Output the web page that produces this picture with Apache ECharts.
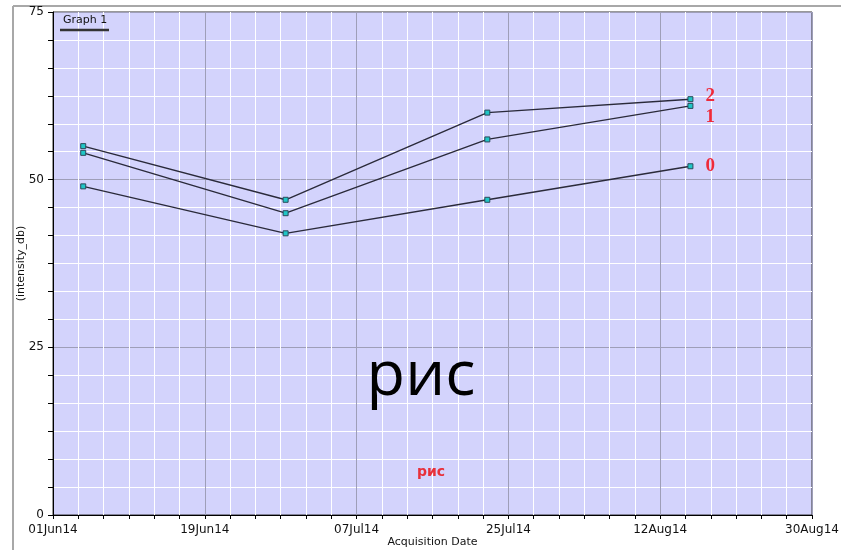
<!DOCTYPE html>
<html>
<head>
<meta charset="utf-8">
<script src="https://cdn.jsdelivr.net/npm/echarts@6/dist/echarts.min.js"></script>
<style>html,body{margin:0;padding:0;background:#fff;}#c{width:841px;height:550px;}</style>
</head>
<body>
<div id="c"></div>
<script>
// Data
const baseDate = '2014-06-01T00:00:00Z';
const acquisitionDates = ['2014-06-04T14:00:00Z', '2014-06-28T14:00:00Z', '2014-07-22T12:00:00Z', '2014-08-15T14:00:00Z'];
const seriesNames = ['0', '1', '2'];
const series0 = [49, 42, 47, 52];
const series1 = [54, 45, 56, 61];
const series2 = [55, 47, 60, 62];
const yTicks = [0, 25, 50, 75];
const monthNames = ['Jan','Feb','Mar','Apr','May','Jun','Jul','Aug','Sep','Oct','Nov','Dec'];

const DAY = 86400000;
const base = Date.parse(baseDate);
const xDays = acquisitionDates.map(d => (Date.parse(d) - base) / DAY);
function fmtDate(days) {
  const d = new Date(base + days * DAY);
  const dd = String(d.getUTCDate()).padStart(2, '0');
  return dd + monthNames[d.getUTCMonth()] + String(d.getUTCFullYear()).slice(2);
}
const allSeries = [series0, series1, series2];
const labelOffsets = [[0, 0], [0, 11], [0, -3]];

const chart = echarts.init(document.getElementById('c'), null, {renderer: 'canvas', width: 841, height: 550});
const font = 'DejaVu Sans, Verdana, sans-serif';
const option = {
  animation: false,
  grid: {
    left: 53, top: 12, width: 759, height: 503,
    outerBoundsMode: 'none', containLabel: false,
    show: true, backgroundColor: '#d3d3fc', borderColor: '#333', borderWidth: 1
  },
  xAxis: {
    type: 'value', min: 0, max: 90, interval: 18,
    name: 'Acquisition Date', nameLocation: 'middle', nameGap: 22, nameMoveOverlap: false,
    nameTextStyle: {fontFamily: font, fontSize: 11, color: '#111'},
    axisLine: {show: true, lineStyle: {color: '#000', width: 1}},
    axisTick: {show: true, length: 4, lineStyle: {color: '#000'}},
    minorTick: {show: true, splitNumber: 6, length: 4, lineStyle: {color: '#000'}},
    axisLabel: {fontFamily: font, fontSize: 12, color: '#111', margin: 9, formatter: v => fmtDate(v)},
    splitLine: {show: true, lineStyle: {color: '#9e9eb8', width: 1}},
    minorSplitLine: {show: true, lineStyle: {color: '#ffffff', width: 1}}
  },
  yAxis: {
    type: 'value', min: yTicks[0], max: yTicks[yTicks.length - 1], interval: 25,
    name: '(intensity_db)', nameLocation: 'middle', nameGap: 26, nameMoveOverlap: false,
    nameTextStyle: {fontFamily: font, fontSize: 11, color: '#111'},
    axisLine: {show: true, lineStyle: {color: '#000', width: 1}},
    axisTick: {show: true, length: 5, lineStyle: {color: '#000'}},
    minorTick: {show: true, splitNumber: 6, length: 5, lineStyle: {color: '#000'}},
    axisLabel: {fontFamily: font, fontSize: 12, color: '#111', margin: 9},
    splitLine: {show: true, lineStyle: {color: '#9e9eb8', width: 1}},
    minorSplitLine: {show: true, lineStyle: {color: '#ffffff', width: 1}}
  },
  series: allSeries.map((vals, si) => ({
    type: 'line',
    name: seriesNames[si],
    data: vals.map((v, i) => {
      const item = {value: [xDays[i], v]};
      if (i === vals.length - 1) {
        item.label = {
          show: true, position: 'right', distance: 12, offset: labelOffsets[si],
          formatter: seriesNames[si],
          fontFamily: 'Liberation Serif, DejaVu Serif, serif', fontWeight: 'bold',
          fontSize: 19, color: '#ee2a3a'
        };
      }
      return item;
    }),
    symbol: 'rect', symbolSize: 5, showAllSymbol: true,
    itemStyle: {color: '#1fc6c6', borderColor: '#2a4a5a', borderWidth: 1},
    lineStyle: {color: '#2a2a3a', width: 1.4},
    label: {show: false},
    z: 5
  })),
  graphic: [
    {type: 'line', shape: {x1: 13, y1: 6, x2: 841, y2: 6}, style: {stroke: '#a8a8a8', lineWidth: 2}, silent: true},
    {type: 'line', shape: {x1: 13, y1: 6, x2: 13, y2: 550}, style: {stroke: '#a8a8a8', lineWidth: 2}, silent: true},
    {type: 'text', left: 63, top: 15, style: {text: 'Graph 1', fontFamily: font, fontSize: 11, fill: '#111'}, z: 10},
    {type: 'line', shape: {x1: 60, y1: 30, x2: 109, y2: 30}, style: {stroke: '#333', lineWidth: 2.5}, z: 10},
    {type: 'text', x: 421, y: 377, style: {text: 'рис', fontFamily: 'Open Sans, sans-serif', fontSize: 63, fill: '#000', textAlign: 'center', textVerticalAlign: 'middle'}, z: 10},
    {type: 'text', x: 431, y: 472, style: {text: 'рис', fontFamily: 'DejaVu Sans, sans-serif', fontWeight: 'bold', fontSize: 14, fill: '#e8303a', textAlign: 'center', textVerticalAlign: 'middle'}, z: 10}
  ]
};
chart.setOption(option);
</script>
</body>
</html>
